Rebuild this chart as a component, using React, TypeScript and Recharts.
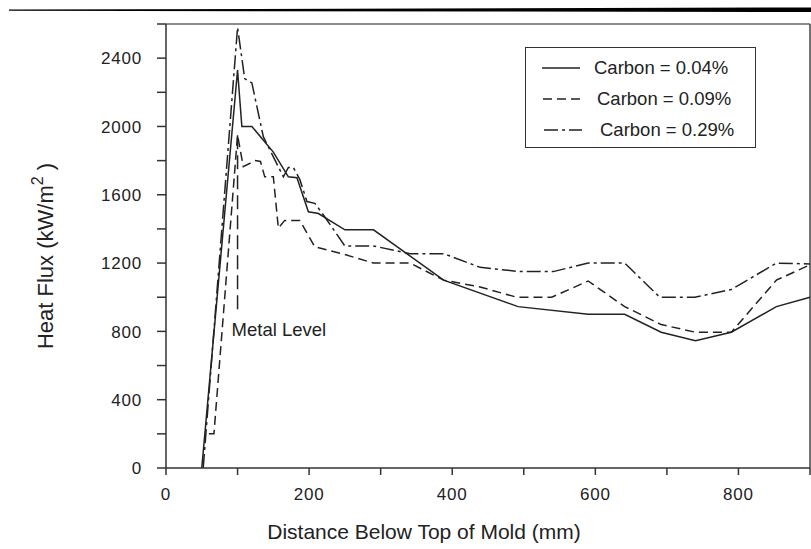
import { LineChart, Line, XAxis, YAxis, ReferenceLine } from 'recharts';

const FONT = '"Liberation Sans", Arial, Helvetica, sans-serif';
const INK = '#222';

// axis ticks (labels only on the majors)
const xTicks = [0, 100, 200, 300, 400, 500, 600, 700, 800, 900];
const xLabels = [0, 200, 400, 600, 800];
const yTicks = [0, 200, 400, 600, 800, 1000, 1200, 1400, 1600, 1800, 2000, 2200, 2400, 2600];
const yLabels = [0, 400, 800, 1200, 1600, 2000, 2400];

// Carbon = 0.04%
const lowDist = [50, 100, 106, 120, 150, 171, 183, 199, 213, 250, 290, 388, 492, 590, 641, 692, 740, 790, 853, 900];
const lowFlux = [0, 2330, 2000, 2000, 1850, 1705, 1700, 1500, 1490, 1395, 1395, 1100, 945, 900, 900, 795, 745, 795, 945, 1000];

// Carbon = 0.09%
const midDist = [60, 67, 100, 108, 125, 132, 138, 150, 157, 166, 187, 208, 246, 290, 341, 388, 439, 490, 539, 590, 641, 692, 740, 790, 853, 900];
const midFlux = [200, 200, 1950, 1765, 1800, 1795, 1705, 1705, 1405, 1450, 1450, 1295, 1255, 1200, 1200, 1100, 1060, 1000, 1000, 1095, 945, 840, 795, 795, 1100, 1190];

// Carbon = 0.29%
const highDist = [52, 100, 110, 120, 136, 164, 171, 178, 187, 197, 208, 222, 250, 290, 341, 388, 439, 495, 541, 590, 641, 690, 739, 790, 853, 900];
const highFlux = [0, 2580, 2280, 2255, 1940, 1705, 1760, 1760, 1690, 1560, 1550, 1470, 1300, 1300, 1255, 1255, 1175, 1150, 1150, 1200, 1200, 1000, 1000, 1045, 1200, 1195];

const metalLevel = { d: 100, from: 930, to: 1950 };

const zip = (xs: number[], ys: number[]) => xs.map((d, i) => ({ d, v: ys[i] }));

const series = [
  { name: 'Carbon = 0.04%', data: zip(lowDist, lowFlux), dash: undefined as string | undefined },
  { name: 'Carbon = 0.09%', data: zip(midDist, midFlux), dash: '9 5' },
  { name: 'Carbon = 0.29%', data: zip(highDist, highFlux), dash: '14 4 3 4' },
];

const XTick = (props: any) => {
  const { x, y, payload } = props;
  if (!xLabels.includes(payload.value)) return <g />;
  return (
    <text x={x} y={y} dy="0.71em" textAnchor="middle" fontSize={17} letterSpacing={0.8} fill={INK} fontFamily={FONT}>
      {payload.value}
    </text>
  );
};

const YTick = (props: any) => {
  const { x, y, payload } = props;
  if (!yLabels.includes(payload.value)) return <g />;
  return (
    <text x={x} y={y} dy="0.36em" textAnchor="end" fontSize={17} letterSpacing={0.8} fill={INK} fontFamily={FONT}>
      {payload.value}
    </text>
  );
};

const yTitle = () => (
  <text transform="translate(53, 256) rotate(-90)" textAnchor="middle" fontSize={22} fill={INK} fontFamily={FONT}>
    Heat Flux (kW/m
    <tspan dy={-10} fontSize={16}>2</tspan>
    <tspan dy={10}> )</tspan>
  </text>
);

const xTitle = () => (
  <text x={424} y={539} textAnchor="middle" fontSize={21} fill={INK} fontFamily={FONT}>
    Distance Below Top of Mold (mm)
  </text>
);

const metalLabel = (props: any) => {
  const vb = props.viewBox || {};
  return (
    <text x={(vb.x || 0) - 6} y={(vb.y || 0) + (vb.height || 0) + 27} fontSize={18.5} fill={INK} fontFamily={FONT}>
      Metal Level
    </text>
  );
};

function LegendBox() {
  return (
    <div
      style={{
        position: 'absolute',
        left: 525,
        top: 47,
        width: 231,
        height: 101,
        border: '1.5px solid #333',
        fontFamily: FONT,
        fontSize: 18.5,
        color: INK,
        paddingTop: 4,
        boxSizing: 'border-box',
      }}
    >
      {series.map((s, i) => (
        <div key={s.name} style={{ display: 'flex', alignItems: 'center', height: 31 }}>
          <svg width={40} height={10} style={{ marginLeft: 16 + i, flex: 'none' }}>
            <line x1={0} y1={5} x2={38} y2={5} stroke={INK} strokeWidth={1.4} strokeDasharray={s.dash} />
          </svg>
          <span style={{ marginLeft: 12 + i * 2, whiteSpace: 'nowrap' }}>{s.name}</span>
        </div>
      ))}
    </div>
  );
}

export default function App() {
  return (
    <div style={{ position: 'absolute', left: 0, top: 0, width: 811, height: 549, background: '#fff' }}>
      <svg width={811} height={20} style={{ position: 'absolute', left: 0, top: 0 }}>
        <polygon points="9,9.5 811,7.5 811,12 9,10.8" fill="#000" />
      </svg>
      <LineChart width={811} height={549} margin={{ top: 24, right: 1, bottom: 0, left: 0 }}>
        <XAxis
          dataKey="d"
          type="number"
          domain={[0, 900]}
          ticks={xTicks}
          interval={0}
          height={81}
          tickSize={7}
          tickMargin={13}
          tick={XTick}
          stroke="#333"
          strokeWidth={1.5}
          label={xTitle}
          allowDuplicatedCategory={false}
        />
        <YAxis
          type="number"
          domain={[0, 2600]}
          ticks={yTicks}
          interval={0}
          width={166}
          tickSize={9}
          tickMargin={15}
          tick={YTick}
          stroke="#333"
          strokeWidth={1.5}
          label={yTitle}
        />
        <ReferenceLine y={2600} stroke="#666" strokeWidth={1.5} />
        <ReferenceLine x={900} stroke="#444" strokeWidth={1.5} />
        <ReferenceLine
          segment={[{ x: metalLevel.d, y: metalLevel.from }, { x: metalLevel.d, y: metalLevel.to }]}
          stroke={INK}
          strokeWidth={1.5}
          strokeDasharray="14 6"
          label={metalLabel}
        />
        {series.map((s) => (
          <Line
            key={s.name}
            name={s.name}
            data={s.data}
            dataKey="v"
            type="linear"
            stroke={INK}
            strokeWidth={1.5}
            strokeDasharray={s.dash}
            dot={false}
            activeDot={false}
            isAnimationActive={false}
          />
        ))}
      </LineChart>
      <LegendBox />
    </div>
  );
}
